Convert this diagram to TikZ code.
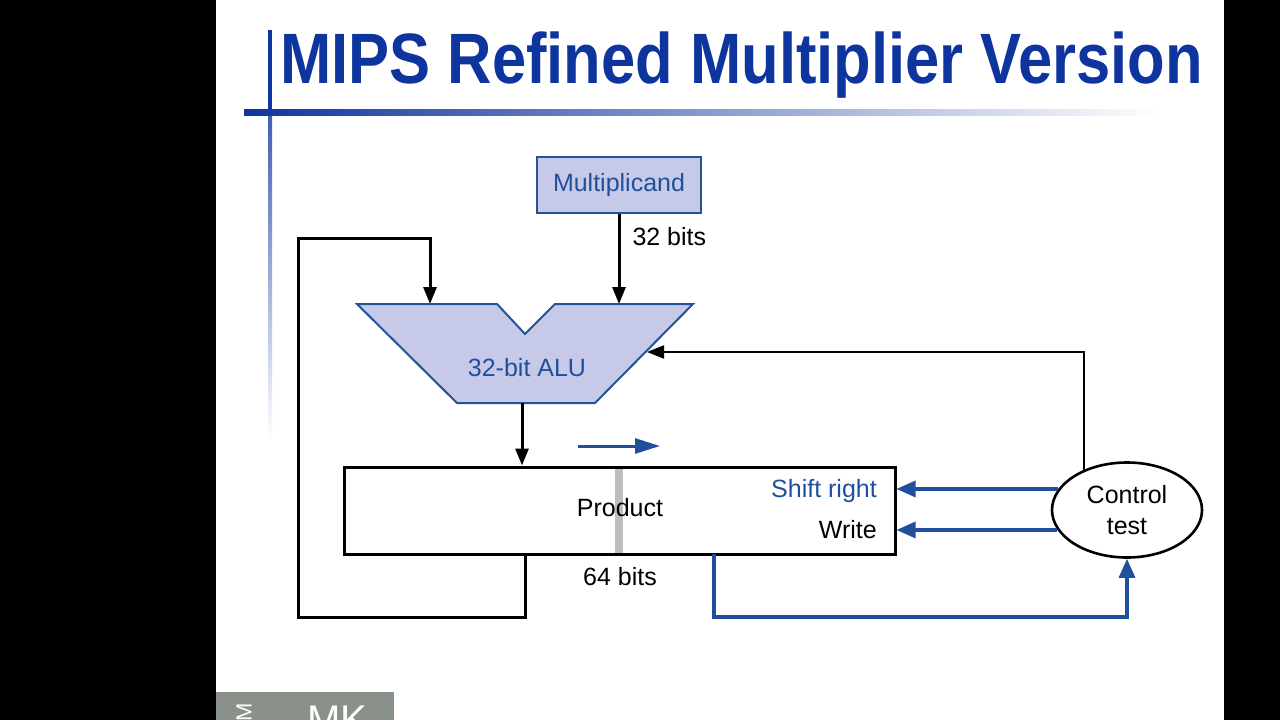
\documentclass[tikz,border=0pt]{standalone}
\usepackage{xcolor}
\usepackage{fontspec}
\setmainfont{Liberation Sans}
\usepackage{tikz}
\usetikzlibrary{arrows.meta,positioning}
\usetikzlibrary{shapes.geometric}

\definecolor{titleblue}{RGB}{14,52,158}
\definecolor{wireblue}{RGB}{32,80,156}
\definecolor{alufill}{RGB}{198,201,232}
\definecolor{aluedge}{RGB}{38,82,150}
\definecolor{bargray}{RGB}{190,190,190}
\definecolor{logogray}{RGB}{138,145,138}

\tikzset{
  lbl/.style={font=\fontsize{25}{31}\selectfont, inner sep=0pt},
  blackwire/.style={line width=3pt, -{Triangle[length=17pt,width=13pt]}},
  bluewire/.style={wireblue, line width=3.2pt, -{Triangle[length=19pt,width=16pt]}},
  regbox/.style={draw=aluedge, line width=2pt, fill=alufill, text=wireblue,
    minimum width=164pt, minimum height=56pt, lbl},
}

\begin{document}
\begin{tikzpicture}[x=1pt,y=-1pt]
\useasboundingbox (0,0) rectangle (1280,720);
\fill[black] (0,0) rectangle (1280,720);
\fill[white] (216,0) rectangle (1224,720);

\fill[titleblue] (268,30) rectangle (272,112);
\shade[top color=titleblue!80, bottom color=white] (268,112) rectangle (272,440);
\shade[left color=titleblue, right color=white] (244,109) rectangle (1160,115);
\node[anchor=base west, inner sep=0pt, text=titleblue,
  font=\fontsize{61.5}{70}\bfseries] (title) at (280,83)
  {\scalebox{1}[1.16]{MIPS Refined Multiplier Version}};

\fill[logogray] (216,692) rectangle (394,720);
\begin{scope}
\clip (216,692) rectangle (394,720);
\node[white, font=\fontsize{40}{40}\selectfont, anchor=base] (logo) at (337,733) {MK};
\node[white, font=\fontsize{22}{22}\selectfont, rotate=90] (logom) at (244,712) {M};
\end{scope}

\node[regbox] (mcand) at (619,185) {Multiplicand};

\coordinate (alutl) at (357,304);
\coordinate (alunl) at (497,304);
\coordinate (alunb) at (525,334);
\coordinate (alunr) at (555,304);
\coordinate (alutr) at (693,304);
\coordinate (alubr) at (595,403);
\coordinate (alubl) at (457,403);
\draw[aluedge, line width=2pt, fill=alufill, line join=miter]
  (alutl) -- (alunl) -- (alunb) -- (alunr) -- (alutr) -- (alubr) -- (alubl) -- cycle;
\node[lbl, text=wireblue] (alu) at (527,368) {32-bit ALU};
\coordinate (aluina) at (430,304);
\coordinate (aluinb) at (619,304);
\coordinate (aluout) at (522,403);
\coordinate (aluctl) at (647,352);

\fill[bargray] (615,467) rectangle (623,554);
\node[draw, line width=3pt, minimum width=551pt, minimum height=87pt, inner sep=0pt]
  (prod) at (619.5,510.5) {};
\node[lbl] (prodtext) at (620,508) {Product};
\node[lbl, anchor=east, text=wireblue] (shift) at (877,491) {Shift right};
\node[lbl, anchor=east] (write) at (877,530) {Write};
\node[lbl] (bits64) at (620,577) {64 bits};

\node[draw, ellipse, line width=2.6pt, minimum width=150pt, minimum height=95pt,
  inner sep=0pt, align=center, lbl] (ctrl) at (1127,510) {Control\\test};

\draw[blackwire] (mcand) -- (aluinb)
  node[pos=0.25, right=12pt, lbl] (bits32) {32 bits};
\draw[blackwire] (aluout) -- (aluout |- prod.north);
\draw[blackwire] ([xshift=3pt]aluout |- prod.south) -- ++(0,62) -| (298,238) -| (aluina);
\draw[line width=2pt, -{Triangle[length=17pt,width=13pt]}]
  (ctrl.137) -- (ctrl.137 |- aluctl) -- (aluctl);
\draw[bluewire] (ctrl.163.6) -- (prod.east |- ctrl.163.6);
\draw[bluewire] (ctrl.196.4) -- (prod.east |- ctrl.196.4);
\draw[bluewire] (714,554) -- (714,617) -| (ctrl.south);
\draw[wireblue, line width=3pt, -{Triangle[length=25pt,width=15pt]}] (578,446) -- (660,446);
\end{tikzpicture}
\end{document}
